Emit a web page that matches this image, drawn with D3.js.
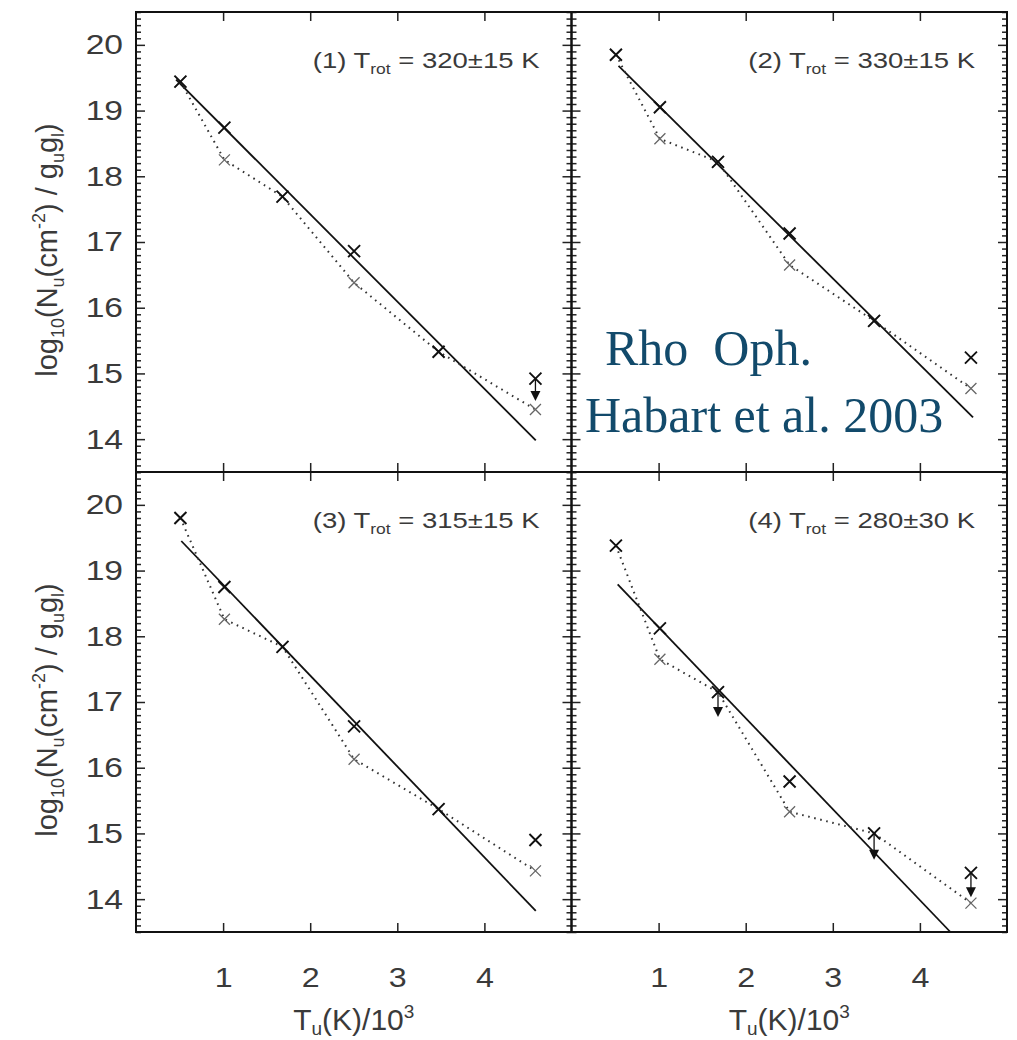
<!DOCTYPE html>
<html>
<head>
<meta charset="utf-8">
<script src="https://cdn.jsdelivr.net/npm/d3@7"></script>
<style>
  body { margin: 0; background: #fff; }
  svg text { font-family: "Liberation Sans", Arial, Helvetica, sans-serif; fill: #3a3a3a; }
  .tick line { stroke: #222; stroke-width: 1.5; }
  .note { font-family: "Liberation Serif", "Times New Roman", serif; font-size: 50px; white-space: pre; }
  svg text.note { fill: #124a6b; }
</style>
</head>
<body>
<svg id="chart" width="1017" height="1040"></svg>
<script>
// H2 rotational lines S(0)..S(5), upper level energy in K/1000
const xVals = [0.510, 1.015, 1.682, 2.504, 3.474, 4.586];

const panelIds = ["(1)", "(2)", "(3)", "(4)"];
const tRot = ["320±15", "330±15", "315±15", "280±30"];

// observed column densities (log10 Nu / gu gl)
const obs1 = [19.44, 18.74, 17.69, 16.86, 15.33, 14.92];
const obs2 = [19.85, 19.05, 18.22, 17.13, 15.80, 15.24];
const obs3 = [19.80, 18.75, 17.84, 16.63, 15.37, 14.90];
const obs4 = [19.38, 18.12, 17.15, 15.79, 15.00, 14.40];

// model values (dotted line)
const model1 = [19.44, 18.25, 17.69, 16.38, 15.33, 14.45];
const model2 = [19.85, 18.57, 18.22, 16.65, 15.80, 14.77];
const model3 = [19.80, 18.26, 17.84, 16.13, 15.37, 14.43];
const model4 = [19.38, 17.65, 17.15, 15.33, 15.00, 13.94];

// upper limits (arrow end), null = no arrow
const limit1 = [null, null, null, null, null, 14.58];
const limit2 = [null, null, null, null, null, null];
const limit3 = [null, null, null, null, null, null];
const limit4 = [null, null, 16.77, null, 14.60, 14.03];

// rotation diagram fits: [x start, x end], [y start, y end]
const fitX = [[0.46, 4.59], [0.54, 4.61], [0.52, 4.59], [0.53, 4.35]];
const fitY = [[19.47, 13.98], [19.68, 14.33], [19.45, 13.82], [18.79, 13.50]];

const xTicks = [1, 2, 3, 4];
const yTicks = [14, 15, 16, 17, 18, 19, 20];

const obsAll = [obs1, obs2, obs3, obs4];
const modelAll = [model1, model2, model3, model4];
const limitAll = [limit1, limit2, limit3, limit4];

const ML = 136, MT = 12, PW = 435.5, PH = 460;
const svg = d3.select("#chart");

const x = d3.scaleLinear().domain([0, 5]).range([0, PW]);
const y = d3.scaleLinear().domain([13.5, 20.5]).range([PH, 0]);

const minorY = d3.range(135, 206).map(v => v / 10)
  .filter(v => Math.abs(v - Math.round(v)) > 1e-6);

const crossPath = (cx, cy, r) =>
  `M${cx - r},${cy - r}L${cx + r},${cy + r}M${cx + r},${cy - r}L${cx - r},${cy + r}`;

function stretch(t, sx) {
  const tx = +t.attr("x") || 0;
  t.attr("transform", `translate(${tx},0) scale(${sx},1) translate(${-tx},0)`);
}

function drawPanel(i) {
  const col = i % 2, row = Math.floor(i / 2);
  const g = svg.append("g")
    .attr("transform", `translate(${ML + col * PW},${MT + row * PH})`);

  // minor ticks on both vertical sides
  g.append("g").call(d3.axisLeft(y).tickValues(minorY)
    .tickSizeInner(-5).tickSizeOuter(0).tickFormat(""));
  g.append("g").attr("transform", `translate(${PW},0)`)
    .call(d3.axisRight(y).tickValues(minorY)
      .tickSizeInner(-5).tickSizeOuter(0).tickFormat(""));

  // major y ticks
  const yl = g.append("g").call(d3.axisLeft(y).tickValues(yTicks)
    .tickSizeInner(-9).tickSizeOuter(0).tickPadding(13)
    .tickFormat(col === 0 ? d3.format("d") : ""));
  yl.selectAll("text").style("font-size", "28px")
    .each(function () { stretch(d3.select(this), 1.2); });
  g.append("g").attr("transform", `translate(${PW},0)`)
    .call(d3.axisRight(y).tickValues(yTicks)
      .tickSizeInner(-9).tickSizeOuter(0).tickFormat(""));

  // x ticks top and bottom
  g.append("g").call(d3.axisTop(x).tickValues(xTicks)
    .tickSizeInner(-9).tickSizeOuter(0).tickFormat(""));
  const xb = g.append("g").attr("transform", `translate(0,${PH})`)
    .call(d3.axisBottom(x).tickValues(xTicks)
      .tickSizeInner(-9).tickSizeOuter(0).tickPadding(35)
      .tickFormat(row === 1 ? d3.format("d") : ""));
  xb.selectAll("text").style("font-size", "28px")
    .each(function () { stretch(d3.select(this), 1.15); });

  g.selectAll(".domain").remove();

  g.append("rect")
    .attr("width", PW).attr("height", PH)
    .attr("fill", "none").attr("stroke", "#111").attr("stroke-width", 2);

  const plot = g.append("g");
  const obs = obsAll[i], model = modelAll[i], lim = limitAll[i];

  // fit line
  plot.append("line")
    .attr("x1", x(fitX[i][0])).attr("y1", y(fitY[i][0]))
    .attr("x2", x(fitX[i][1])).attr("y2", y(fitY[i][1]))
    .attr("stroke", "#111").attr("stroke-width", 1.8);

  // model dotted line
  plot.append("path")
    .attr("d", d3.line().x((d, j) => x(xVals[j])).y(d => y(d))(model))
    .attr("fill", "none").attr("stroke", "#333")
    .attr("stroke-width", 2).attr("stroke-dasharray", "1.6,4.6");

  // model crosses
  plot.selectAll(".mod").data(model).join("path")
    .attr("d", (d, j) => crossPath(x(xVals[j]), y(d), 5.5))
    .attr("stroke", "#666").attr("stroke-width", 1.3);

  // upper-limit arrows
  lim.forEach((L, j) => {
    if (L === null) return;
    const cx = x(xVals[j]), y0 = y(obs[j]), y1 = y(L);
    plot.append("line")
      .attr("x1", cx).attr("x2", cx).attr("y1", y0).attr("y2", y1 - 8)
      .attr("stroke", "#111").attr("stroke-width", 1.3);
    plot.append("path")
      .attr("d", `M${cx - 5},${y1 - 10}L${cx + 5},${y1 - 10}L${cx},${y1}Z`)
      .attr("fill", "#111");
  });

  // observed crosses
  plot.selectAll(".obs").data(obs).join("path")
    .attr("d", (d, j) => crossPath(x(xVals[j]), y(d), 6))
    .attr("stroke", "#111").attr("stroke-width", 1.9);

  // panel title
  const t = g.append("text")
    .attr("x", PW - 32).attr("y", 56)
    .attr("text-anchor", "end")
    .style("font-size", "22px");
  t.append("tspan").text(`${panelIds[i]} T`);
  t.append("tspan").attr("dy", 6).style("font-size", "14px").text("rot");
  t.append("tspan").attr("dy", -6).text(` = ${tRot[i]} K`);
  stretch(t, 1.25);

  // axis titles
  if (col === 0) {
    const yt = svg.append("text")
      .attr("transform", `translate(57,${MT + row * PH + PH / 2 + 8}) rotate(-90)`)
      .attr("text-anchor", "middle")
      .style("font-size", "29px");
    yt.append("tspan").text("log");
    yt.append("tspan").attr("dy", 7).style("font-size", "18px").text("10");
    yt.append("tspan").attr("dy", -7).text("(N");
    yt.append("tspan").attr("dy", 7).style("font-size", "18px").text("u");
    yt.append("tspan").attr("dy", -7).text("(cm");
    yt.append("tspan").attr("dy", -12).style("font-size", "18px").text("-2");
    yt.append("tspan").attr("dy", 12).text(") / g");
    yt.append("tspan").attr("dy", 7).style("font-size", "18px").text("u");
    yt.append("tspan").attr("dy", -7).text("g");
    yt.append("tspan").attr("dy", 7).style("font-size", "18px").text("l");
    yt.append("tspan").attr("dy", -7).text(")");
  }
  if (row === 1) {
    const xt = svg.append("text")
      .attr("x", ML + col * PW + PW / 2).attr("y", 1030)
      .attr("text-anchor", "middle")
      .style("font-size", "30px");
    xt.append("tspan").text("T");
    xt.append("tspan").attr("dy", 5).style("font-size", "19px").text("u");
    xt.append("tspan").attr("dy", -5).text("(K)/10");
    xt.append("tspan").attr("dy", -12).style("font-size", "19px").text("3");
  }
}

d3.range(4).forEach(drawPanel);

// annotation
svg.append("text").attr("class", "note")
  .attr("x", 605).attr("y", 365)
  .attr("xml:space", "preserve")
  .text("Rho\u00a0\u00a0Oph.");
svg.append("text").attr("class", "note")
  .attr("x", 585).attr("y", 432)
  .text("Habart et al. 2003");
</script>
</body>
</html>
